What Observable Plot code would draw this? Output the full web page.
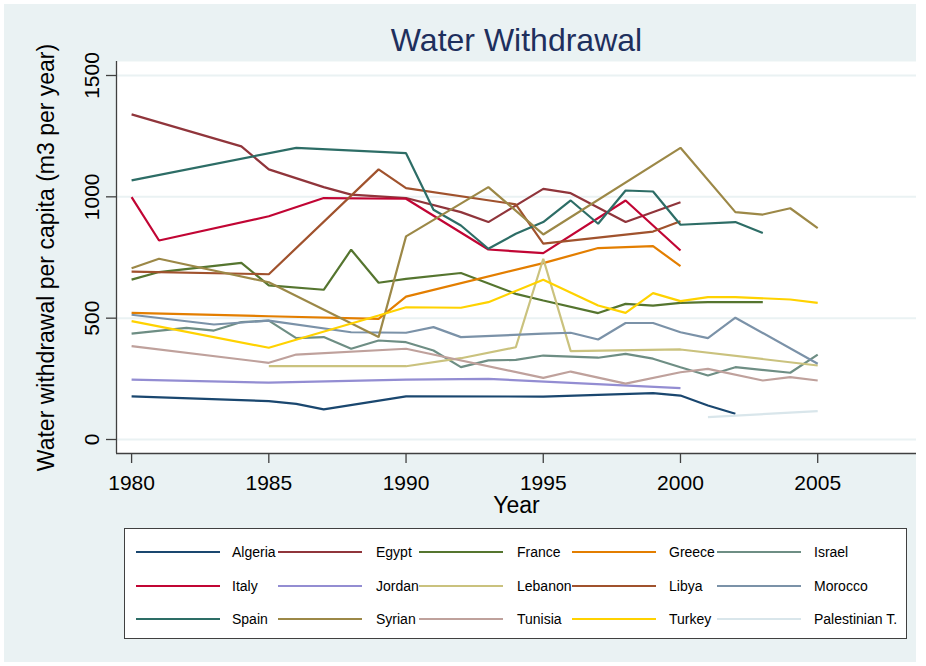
<!DOCTYPE html>
<html>
<head>
<meta charset="utf-8">
<script src="https://cdn.jsdelivr.net/npm/d3@7"></script>
<script src="https://cdn.jsdelivr.net/npm/@observablehq/plot@0.6"></script>
<style>
  html, body { margin: 0; padding: 0; background: #ffffff; }
  body { width: 926px; height: 666px; position: relative; overflow: hidden; font-family: "Liberation Sans", Arial, sans-serif; }
  #bg { position: absolute; left: 4px; top: 4px; width: 912px; height: 658px; background: #eaf2f3; }
  #chart { position: absolute; left: 0; top: 0; }
  #legend { position: absolute; left: 124px; top: 528px; width: 781px; height: 109px; background: #ffffff; border: 1px solid #404040; }
  .sw { position: absolute; height: 2.4px; width: 84px; }
  .lb { position: absolute; font-size: 14px; line-height: 16px; color: #000; white-space: nowrap; }
</style>
</head>
<body>
<div id="bg"></div>
<div id="chart"></div>
<div id="legend"></div>
<script>
// ---- data ----
const countries = ["Algeria","Egypt","France","Greece","Israel","Italy","Jordan","Lebanon","Libya","Morocco","Spain","Syrian","Tunisia","Turkey","Palestinian T."];
const colors = ["#1a476f","#90353b","#55752f","#e37e00","#6e8e84","#c10534","#938dd2","#cac27e","#a0522d","#7b92a8","#2d6d66","#9c8847","#bfa19c","#ffd200","#d9e6eb"];

const algeria = [[1980,178],[1985,158],[1986,147],[1987,124],[1990,178],[1995,177],[1999,191],[2000,181],[2001,140],[2002,106]];
const egypt = [[1980,1340],[1984,1208],[1985,1113],[1987,1040],[1988,1009],[1990,995],[1992,937],[1993,896],[1995,1033],[1996,1015],[1998,896],[2000,978]];
const france = [[1980,659],[1981,690],[1984,728],[1985,635],[1987,617],[1988,782],[1989,646],[1990,662],[1992,686],[1994,600],[1995,573],[1997,521],[1998,559],[1999,552],[2000,563],[2001,566],[2003,566]];
const greece = [[1980,522],[1985,508],[1989,497],[1990,589],[1995,727],[1997,789],[1999,797],[2000,714]];
const israel = [[1980,436],[1982,460],[1983,449],[1984,484],[1985,490],[1986,418],[1987,422],[1988,374],[1989,408],[1990,401],[1991,367],[1992,298],[1993,326],[1994,328],[1995,346],[1997,337],[1998,353],[1999,333],[2000,298],[2001,264],[2002,298],[2004,275],[2005,350]];
const italy = [[1980,999],[1981,820],[1985,920],[1987,995],[1990,992],[1993,783],[1995,768],[1998,985],[2000,779]];
const jordan = [[1980,247],[1985,234],[1990,247],[1993,250],[2000,212]];
const lebanon = [[1985,302],[1990,302],[1992,335],[1994,380],[1995,745],[1996,364],[2000,371],[2005,305]];
const libya = [[1980,692],[1985,681],[1989,1113],[1990,1036],[1994,969],[1995,807],[1999,857],[2000,899]];
const morocco = [[1980,514],[1983,474],[1985,490],[1988,442],[1990,440],[1991,463],[1992,422],[1995,436],[1996,440],[1997,412],[1998,480],[1999,480],[2000,442],[2001,418],[2002,502],[2005,312]];
const spain = [[1980,1068],[1986,1202],[1990,1180],[1991,947],[1992,882],[1993,786],[1994,848],[1995,896],[1996,985],[1997,889],[1998,1026],[1999,1022],[2000,885],[2002,896],[2003,851]];
const syrian = [[1980,706],[1981,745],[1985,648],[1989,422],[1990,837],[1993,1040],[1995,845],[2000,1202],[2002,937],[2003,927],[2004,953],[2005,871]];
const tunisia = [[1980,385],[1985,316],[1986,350],[1990,374],[1995,254],[1996,280],[1998,230],[2000,277],[2001,291],[2003,243],[2004,257],[2005,243]];
const turkey = [[1980,488],[1985,378],[1989,511],[1990,545],[1992,543],[1993,566],[1995,658],[1997,552],[1998,522],[1999,603],[2000,570],[2001,587],[2002,587],[2004,577],[2005,563]];
const palestinian = [[2001,92],[2005,117]];

const xTicks = [1980,1985,1990,1995,2000,2005];
const yTicks = [0,500,1000,1500];
const xDomain = [1979.45, 2008.6];
const yDomain = [-57.7, 1557.7];

const seriesList = [algeria,egypt,france,greece,israel,italy,jordan,lebanon,libya,morocco,spain,syrian,tunisia,turkey,palestinian];
const rows = [];
seriesList.forEach((s, i) => s.forEach(([year, value]) => rows.push({country: countries[i], year, value})));

const axisColor = "#404040";
const chart = Plot.plot({
  width: 926,
  height: 520,
  marginLeft: 116,
  marginRight: 10,
  marginTop: 61,
  marginBottom: 67,
  style: {background: "transparent", fontFamily: "'Liberation Sans', Arial, sans-serif", overflow: "visible", color: "#000"},
  x: {domain: xDomain},
  y: {domain: yDomain},
  color: {domain: countries, range: colors},
  marks: [
    Plot.frame({fill: "white", stroke: "none"}),
    Plot.ruleY(yTicks, {stroke: "#eaf2f3", strokeWidth: 2}),
    Plot.line(rows, {x: "year", y: "value", z: "country", stroke: "country", strokeWidth: 2.2, strokeLinejoin: "miter", strokeLinecap: "butt"}),
    Plot.ruleX([xDomain[0]], {stroke: axisColor, strokeWidth: 1.3}),
    Plot.ruleY([yDomain[0]], {stroke: axisColor, strokeWidth: 1.3}),
    Plot.axisX({ticks: xTicks, tickSize: 10, tickPadding: 12, fontSize: 21, label: null, tickFormat: d => String(d), stroke: axisColor, strokeWidth: 1.3}),
    Plot.axisY({ticks: yTicks, tickSize: 10, tickFormat: () => "", label: null, stroke: axisColor, strokeWidth: 1.3}),
    Plot.text(yTicks, {y: d => d, text: d => String(d), frameAnchor: "left", dx: -18, rotate: -90, textAnchor: "middle", lineAnchor: "bottom", fontSize: 21, fill: "#000"}),
    Plot.text(["Water withdrawal per capita (m3 per year)"], {text: d => d, frameAnchor: "left", dx: -63, rotate: -90, textAnchor: "middle", lineAnchor: "bottom", fontSize: 23, fill: "#000"}),
    Plot.text(["Year"], {text: d => d, frameAnchor: "bottom", dy: 59, lineAnchor: "bottom", fontSize: 23, fill: "#000"}),
    Plot.text(["Water Withdrawal"], {text: d => d, frameAnchor: "top", dy: -11, lineAnchor: "bottom", fontSize: 32, fill: "#1e2f5d"})
  ]
});
document.getElementById("chart").appendChild(chart);

// ---- legend ----
const legend = document.getElementById("legend");
const colLine = [11, 153, 294, 447, 592];
const colLabel = [107, 251, 392, 544, 689];
const rowY = [23, 57, 90];
countries.forEach((c, i) => {
  const r = Math.floor(i / 5), k = i % 5;
  const sw = document.createElement("div");
  sw.className = "sw";
  sw.style.left = colLine[k] + "px";
  sw.style.top = (rowY[r] - 1.2) + "px";
  sw.style.background = colors[i];
  legend.appendChild(sw);
  const lb = document.createElement("div");
  lb.className = "lb";
  lb.style.left = colLabel[k] + "px";
  lb.style.top = (rowY[r] - 8) + "px";
  lb.textContent = c;
  legend.appendChild(lb);
});
</script>
</body>
</html>
